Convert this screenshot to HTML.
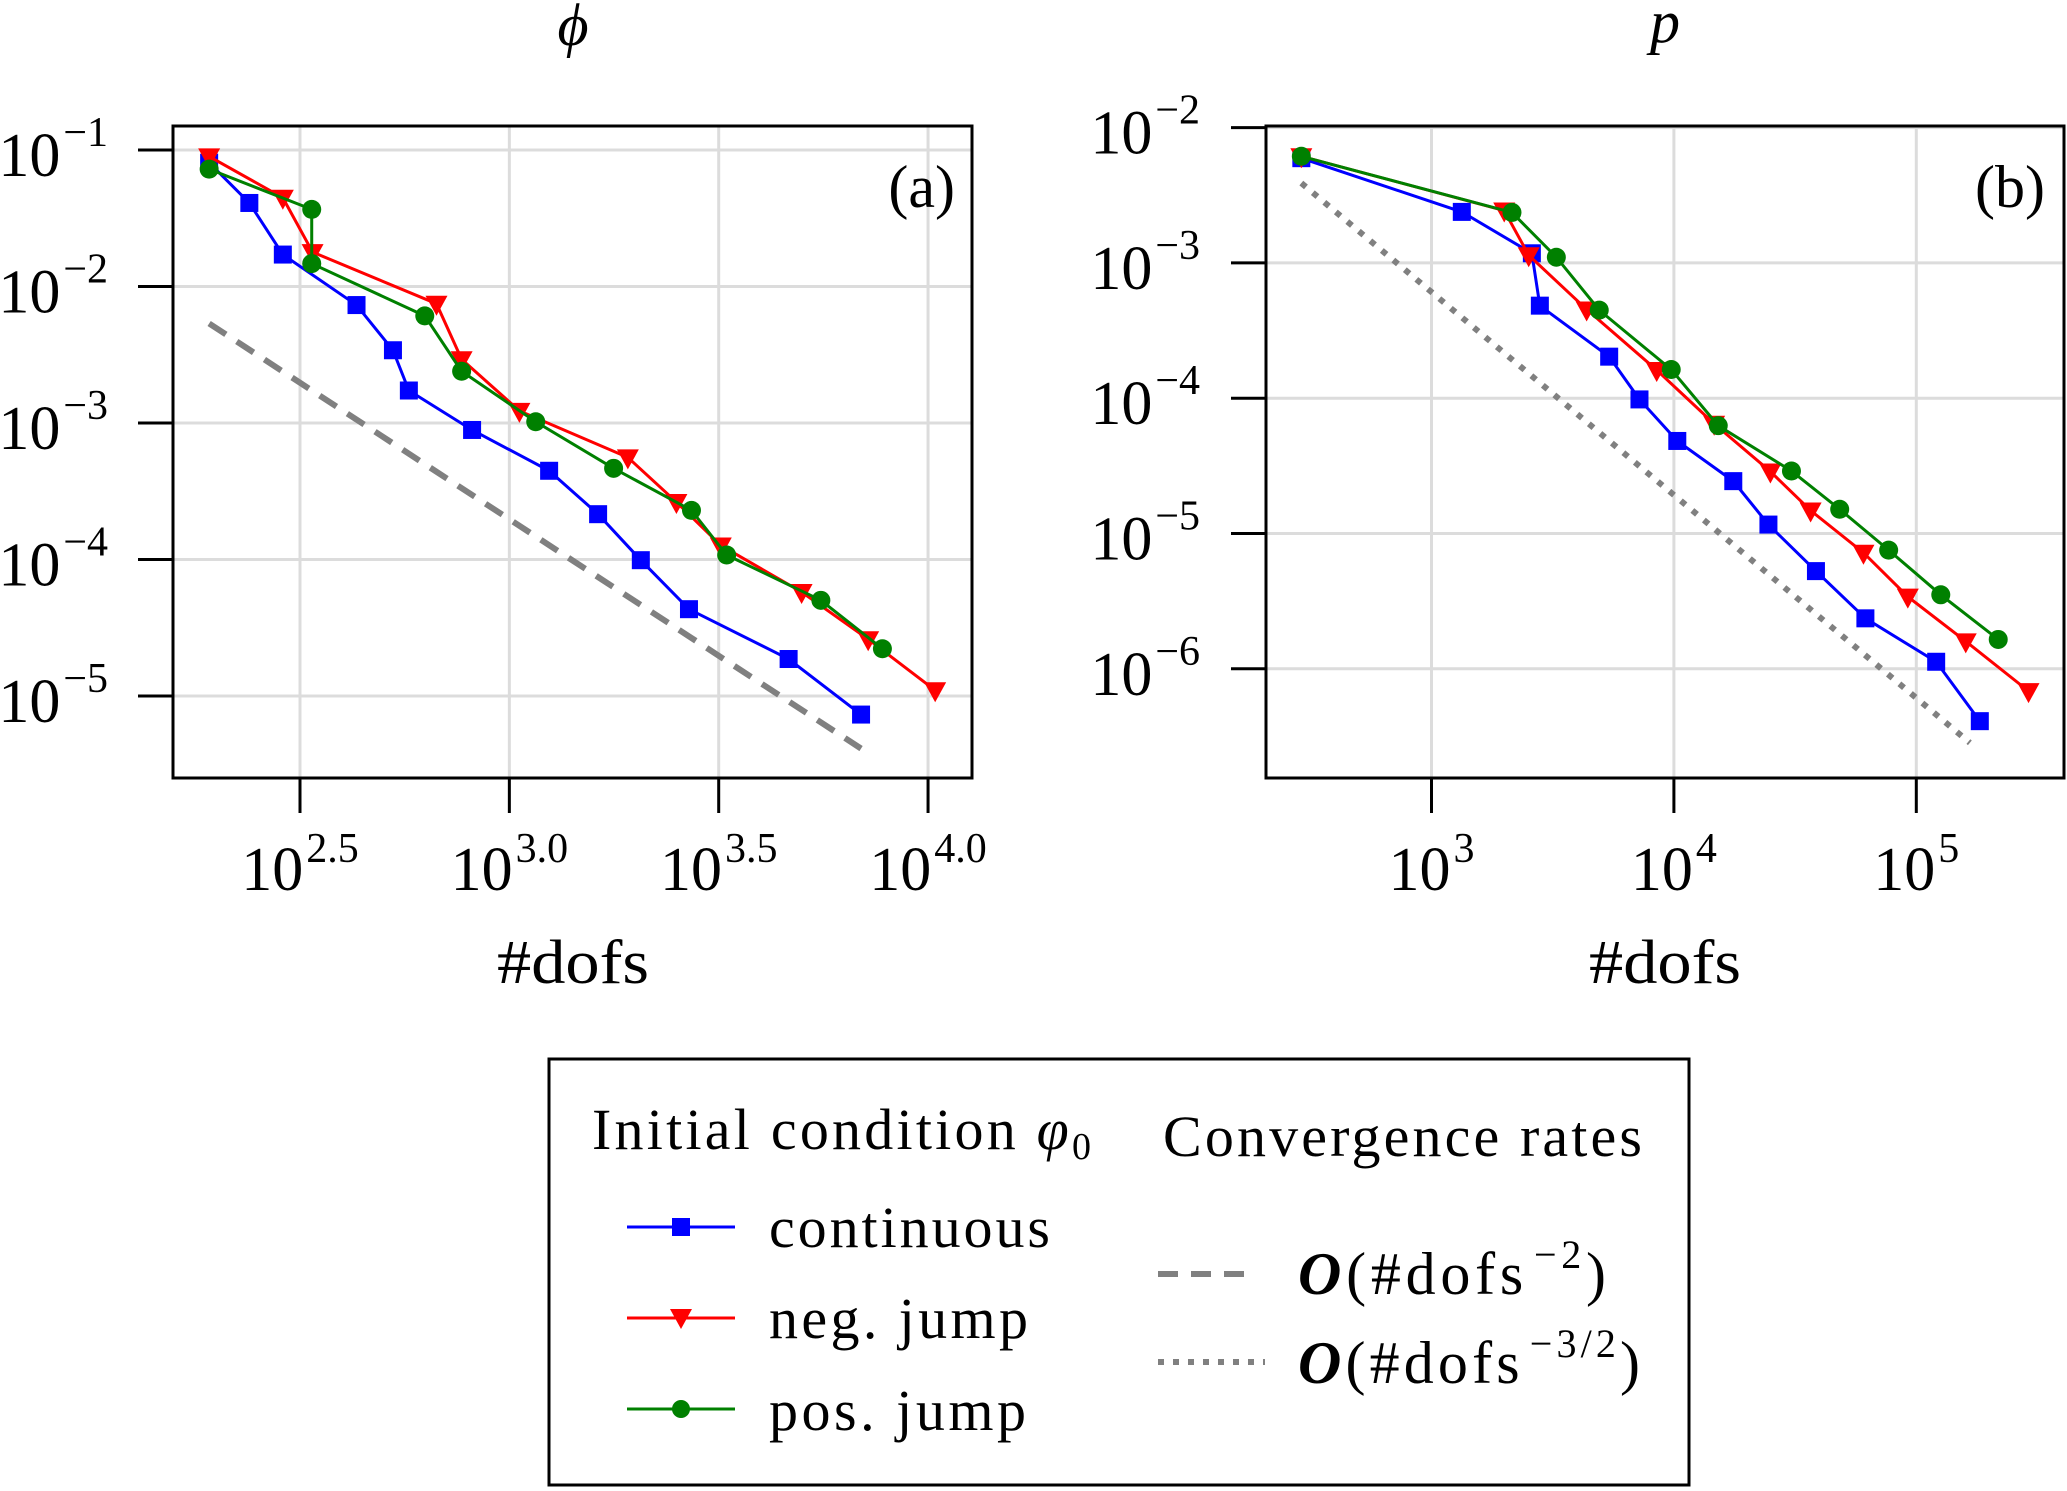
<!DOCTYPE html>
<html><head><meta charset="utf-8">
<style>
html,body{margin:0;padding:0;background:#fff;}
svg{display:block;}
text{font-family:"Liberation Serif","DejaVu Serif",serif;fill:#000;}
</style></head>
<body>
<svg id="fig" width="2067" height="1491" viewBox="0 0 2067 1491" xmlns="http://www.w3.org/2000/svg">
<g id="pa"></g>
<g id="pb"></g>
<g id="leg">
  <rect x="549" y="1059" width="1140" height="426" fill="#fff" stroke="#000" stroke-width="3"/>
  <text x="592" y="1149" font-size="58" textLength="499" lengthAdjust="spacing">Initial condition <tspan font-style="italic">φ</tspan><tspan font-size="38" dy="10">0</tspan></text>
  <text x="1163" y="1156" font-size="58" textLength="479" lengthAdjust="spacing">Convergence rates</text>
  <g>
    <line x1="627" y1="1227" x2="735" y2="1227" stroke="#0000ff" stroke-width="3"/>
    <rect x="672" y="1218" width="18" height="18" fill="#0000ff"/>
    <text x="769" y="1247" font-size="58" textLength="281" lengthAdjust="spacing">continuous</text>
  </g>
  <g>
    <line x1="627" y1="1318" x2="735" y2="1318" stroke="#ff0000" stroke-width="3"/>
    <polygon points="670,1309 692,1309 681,1329" fill="#ff0000"/>
    <text x="769" y="1338" font-size="58" textLength="259" lengthAdjust="spacing">neg. jump</text>
  </g>
  <g>
    <line x1="627" y1="1409" x2="735" y2="1409" stroke="#008000" stroke-width="3"/>
    <circle cx="681" cy="1409" r="9" fill="#008000"/>
    <text x="769" y="1430" font-size="58" textLength="257" lengthAdjust="spacing">pos. jump</text>
  </g>
  <g>
    <line x1="1158" y1="1274" x2="1257" y2="1274" stroke="#808080" stroke-width="6" stroke-dasharray="20,13"/>
    <text x="1298" y="1294" font-size="60" textLength="308" lengthAdjust="spacing"><tspan font-style="italic" font-weight="bold">O</tspan>(#dofs<tspan font-size="40" dy="-26" dx="6">−2</tspan><tspan dy="26">)</tspan></text>
  </g>
  <g>
    <line x1="1158" y1="1362" x2="1265" y2="1362" stroke="#808080" stroke-width="6" stroke-dasharray="6,9"/>
    <text x="1298" y="1383" font-size="60" textLength="342" lengthAdjust="spacing"><tspan font-style="italic" font-weight="bold">O</tspan>(#dofs<tspan font-size="40" dy="-26" dx="6">−3/2</tspan><tspan dy="26">)</tspan></text>
  </g>
</g>
</svg>
<script>
// ---- Panel (a): phi, log10 values ----
const aContX = [2.283,2.379,2.459,2.635,2.722,2.760,2.911,3.095,3.212,3.314,3.429,3.667,3.840];
const aContY = [-1.093,-1.388,-1.766,-2.136,-2.467,-2.762,-3.051,-3.350,-3.668,-4.005,-4.364,-4.729,-5.136];
const aNegX = [2.283,2.459,2.530,2.826,2.886,3.024,3.283,3.399,3.505,3.698,3.857,4.017];
const aNegY = [-1.047,-1.350,-1.748,-2.126,-2.533,-2.911,-3.252,-3.579,-3.897,-4.238,-4.584,-4.958];
const aPosX = [2.283,2.528,2.528,2.798,2.886,3.063,3.249,3.435,3.519,3.744,3.891];
const aPosY = [-1.140,-1.435,-1.832,-2.215,-2.621,-2.991,-3.332,-3.640,-3.967,-4.299,-4.654];
const aRefX = [2.283,3.840];
const aRefY = [-2.271,-5.385];
const aXTicks = [2.5,3.0,3.5,4.0];
const aXTickLabels = ["2.5","3.0","3.5","4.0"];
const aYTicks = [-1,-2,-3,-4,-5];
const aYTickLabels = ["−1","−2","−3","−4","−5"];
// ---- Panel (b): p, log10 values ----
const bContX = [2.463,3.125,3.414,3.447,3.733,3.858,4.014,4.245,4.390,4.586,4.790,5.082,5.262];
const bContY = [-2.226,-2.623,-2.929,-3.316,-3.693,-4.009,-4.316,-4.613,-4.934,-5.278,-5.627,-5.948,-6.387];
const bNegX = [2.463,3.300,3.401,3.640,3.929,4.166,4.398,4.564,4.782,4.965,5.204,5.463];
const bNegY = [-2.212,-2.613,-2.943,-3.344,-3.792,-4.189,-4.542,-4.830,-5.142,-5.467,-5.797,-6.165];
const bPosX = [2.463,3.332,3.515,3.692,3.989,4.183,4.485,4.684,4.886,5.101,5.338];
const bPosY = [-2.212,-2.627,-2.958,-3.349,-3.788,-4.203,-4.538,-4.821,-5.123,-5.453,-5.783];
const bRefX = [2.463,5.221];
const bRefY = [-2.410,-6.547];
const bXTicks = [3,4,5];
const bXTickLabels = ["3","4","5"];
const bYTicks = [-2,-3,-4,-5,-6];
const bYTickLabels = ["−2","−3","−4","−5","−6"];

const NS="http://www.w3.org/2000/svg";
function mk(tag,parent,attrs){const e=document.createElementNS(NS,tag);for(const k in attrs)e.setAttribute(k,attrs[k]);parent.appendChild(e);return e;}

function panel(g,cfg){
  const sx=v=>cfg.x0+(v-cfg.xr)*cfg.xs;
  const sy=v=>cfg.y0-(v-cfg.yr)*cfg.ys;
  const L=cfg.L,R=cfg.R,T=126,B=778;
  cfg.xt.forEach((t,i)=>{
    const gl=mk('line',g,{x1:sx(t),x2:sx(t),y1:T,y2:B,stroke:'#dcdcdc','stroke-width':3});
    
    
    const tk=mk('line',g,{x1:sx(t),x2:sx(t),y1:B,y2:B+35,stroke:'#000','stroke-width':3});
    
    
    const tx=mk('text',g,{x:sx(t)-cfg.xoff,y:890,'font-size':62,'text-anchor':'middle'});
    
    
    tx.textContent='10';
    const sp=mk('tspan',tx,{'font-size':42,dy:-28,dx:3});sp.textContent=cfg.xl[i];
  });
  cfg.yt.forEach((t,i)=>{
    const gl=mk('line',g,{x1:L,x2:R,y1:sy(t),y2:sy(t),stroke:'#dcdcdc','stroke-width':3});
    
    
    const tk=mk('line',g,{x1:L-35,x2:L,y1:sy(t),y2:sy(t),stroke:'#000','stroke-width':3});
    
    
    const tx=mk('text',g,{x:cfg.yl,y:sy(t)+26,'font-size':62,'text-anchor':'end'});
    
    
    tx.textContent='10';
    const sp=mk('tspan',tx,{'font-size':42,dy:-30,dx:3});sp.textContent=cfg.ylab[i];
  });
  const ref=mk('polyline',g,{points:cfg.refX.map((v,i)=>sx(v)+','+sy(cfg.refY[i])).join(' '),fill:'none',stroke:'#808080','stroke-width':6,'stroke-dasharray':cfg.dash});
  
  
  const ser=[[cfg.cX,cfg.cY,'#0000ff','sq','continuous'],[cfg.nX,cfg.nY,'#ff0000','tri','neg-jump'],[cfg.pX,cfg.pY,'#008000','ci','pos-jump']];
  ser.forEach(s=>{
    const sg=mk('g',g,{});
    
    
    const pl=mk('polyline',sg,{points:s[0].map((v,i)=>sx(v)+','+sy(s[1][i])).join(' '),fill:'none',stroke:s[2],'stroke-width':3});
    
    
    s[0].forEach((v,i)=>{
      const x=sx(v),y=sy(s[1][i]);let m;
      if(s[3]==='sq')m=mk('rect',sg,{x:x-9,y:y-9,width:18,height:18,fill:s[2]});
      else if(s[3]==='tri')m=mk('polygon',sg,{points:`${x-11},${y-8} ${x+11},${y-8} ${x},${y+12}`,fill:s[2]});
      else m=mk('circle',sg,{cx:x,cy:y,r:9.5,fill:s[2]});
      
      
    });
  });
  const fr=mk('rect',g,{x:L,y:T,width:R-L,height:B-T,fill:'none',stroke:'#000','stroke-width':3});
  
  
  const tl=mk('text',g,{x:cfg.tagX,y:207,'font-size':60,'text-anchor':'end'});
  
  
  tl.textContent=cfg.tag;
  const ti=mk('text',g,{x:cfg.cx,y:cfg.tY,'font-size':60,'text-anchor':'middle','font-style':'italic'});
  
  
  ti.textContent=cfg.title;
  const xl=mk('text',g,{x:cfg.cx-76,y:983,'font-size':62,textLength:152,lengthAdjust:'spacingAndGlyphs'});
  
  
  xl.textContent='#dofs';
}
panel(document.getElementById('pa'),{L:173,R:972,x0:300,xr:2.5,xs:418.7,y0:150,yr:-1,ys:136.5,
  xt:aXTicks,xl:aXTickLabels,yt:aYTicks,ylab:aYTickLabels,yl:108,xoff:0,
  cX:aContX,cY:aContY,nX:aNegX,nY:aNegY,pX:aPosX,pY:aPosY,refX:aRefX,refY:aRefY,dash:'20,13',
  tag:'(a)',tagX:955,title:'ϕ',cx:573,tY:45});
panel(document.getElementById('pb'),{L:1266,R:2064,x0:1431.5,xr:3,xs:242.4,y0:127.6,yr:-2,ys:135.3,
  xt:bXTicks,xl:bXTickLabels,yt:bYTicks,ylab:bYTickLabels,yl:1200,xoff:0,
  cX:bContX,cY:bContY,nX:bNegX,nY:bNegY,pX:bPosX,pY:bPosY,refX:bRefX,refY:bRefY,dash:'6,9',
  tag:'(b)',tagX:2045,title:'p',cx:1665,tY:42});
</script>
</body></html>
